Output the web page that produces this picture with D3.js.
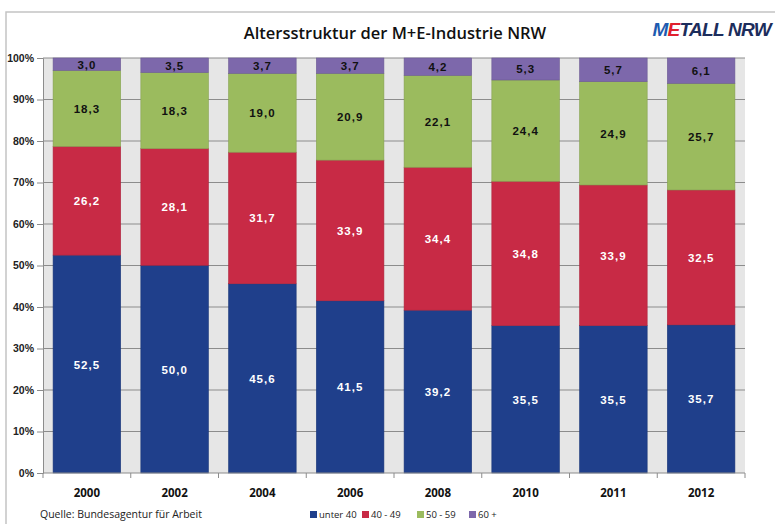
<!DOCTYPE html>
<html><head><meta charset="utf-8">
<script src="https://cdn.jsdelivr.net/npm/d3@7"></script>
<style>body{margin:0;background:#fff}svg{display:block}</style>
</head><body><svg id="c" width="775" height="524"></svg>
<script>
const years = ["2000","2002","2004","2006","2008","2010","2011","2012"];
const seriesNames = ["unter 40","40 - 49","50 - 59","60 +"];
const unter40 = [52.5,50.0,45.6,41.5,39.2,35.5,35.5,35.7];
const s40_49 = [26.2,28.1,31.7,33.9,34.4,34.8,33.9,32.5];
const s50_59 = [18.3,18.3,19.0,20.9,22.1,24.4,24.9,25.7];
const s60plus = [3.0,3.5,3.7,3.7,4.2,5.3,5.7,6.1];
const yTicks = [0,10,20,30,40,50,60,70,80,90,100];
const colors = ["#1f3f8b","#c82a45","#9bbb5e","#7d68ab"];
const textColors = ["#fff","#fff","#111","#111"];

const rows = years.map((y,i)=>({year:y,"unter 40":unter40[i],"40 - 49":s40_49[i],"50 - 59":s50_59[i],"60 +":s60plus[i]}));
const stack = d3.stack().keys(seriesNames).offset(d3.stackOffsetExpand)(rows);

const svg = d3.select("#c");
const L=43,R=745,T=58,B=473;
const x = d3.scaleBand().domain(years).range([L,R]).paddingInner(0.23).paddingOuter(0.115);
const y = d3.scaleLinear().domain([0,100]).range([B,T]);

// frame
svg.append("path").attr("d","M6,524V12H775").attr("fill","none").attr("stroke","#c4c4c4").attr("stroke-width",1.5);

// plot bg
svg.append("rect").attr("x",L).attr("y",T).attr("width",R-L).attr("height",B-T).attr("fill","#e6e6e6");
// grid
svg.append("g").selectAll("line").data(yTicks.filter(d=>d>0)).join("line")
  .attr("x1",L).attr("x2",R).attr("y1",d=>y(d)).attr("y2",d=>y(d)).attr("stroke","#8c8c8c").attr("stroke-width",1);

// bars
const g = svg.append("g");
stack.forEach((s,si)=>{
  g.selectAll(null).data(s).join("rect")
    .attr("x",d=>x(d.data.year)).attr("width",x.bandwidth())
    .attr("y",d=>y(d[1]*100)).attr("height",d=>y(d[0]*100)-y(d[1]*100))
    .attr("fill",colors[si]).attr("stroke",d3.color(colors[si]).darker(0.4)).attr("stroke-width",0.6);
  g.selectAll(null).data(s).join("text")
    .attr("x",d=>x(d.data.year)+x.bandwidth()/2)
    .attr("y",d=>y((d[0]+d[1])/2*100)+4.5)
    .attr("text-anchor","middle").attr("fill",textColors[si])
    .attr("font-family","Liberation Sans, Arial, sans-serif").attr("font-weight","bold").attr("font-size","11.5px")
    .attr("letter-spacing","1px")
    .text(d=>d3.format(".1f")(d.data[s.key]).replace(".",","));
});

// y axis
const ya = svg.append("g").attr("transform",`translate(${L},0)`)
  .call(d3.axisLeft(y).tickValues(yTicks).tickSize(6).tickPadding(3).tickFormat(d=>d+"%"));
ya.select(".domain").attr("stroke","#8c8c8c");
ya.selectAll(".tick line").attr("stroke","#8c8c8c");
ya.selectAll("text").attr("font-family","Liberation Sans, Arial, sans-serif").attr("font-size","10.5px").attr("font-weight","bold").attr("fill","#222");

// x axis
svg.append("line").attr("x1",L).attr("x2",R).attr("y1",B).attr("y2",B).attr("stroke","#8c8c8c");
const bounds = d3.range(years.length+1).map(i=>L+i*(R-L)/years.length);
svg.append("g").selectAll("line").data(bounds).join("line")
  .attr("x1",d=>d).attr("x2",d=>d).attr("y1",B).attr("y2",B+5).attr("stroke","#8c8c8c");
svg.append("g").selectAll("text").data(years).join("text")
  .attr("x",d=>x(d)+x.bandwidth()/2).attr("y",497).attr("text-anchor","middle")
  .attr("font-family","Open Sans, sans-serif").attr("font-weight","bold").attr("font-size","11.5px").attr("fill","#111")
  .text(d=>d);

// title
svg.append("text").attr("x",395).attr("y",39).attr("text-anchor","middle")
  .attr("font-family","Open Sans, sans-serif").attr("font-weight","600").attr("font-size","16.5px").attr("fill","#111")
  .text("Altersstruktur der M+E-Industrie NRW");

// logo
const logo = svg.append("text").attr("x",771).attr("y",36).attr("text-anchor","end")
  .attr("font-family","Liberation Sans, Arial, sans-serif").attr("font-weight","bold").attr("font-style","italic")
  .attr("font-size","19px").attr("letter-spacing","-0.7px");
logo.append("tspan").attr("fill","#1d5bb0").text("M");
logo.append("tspan").attr("fill","#e0202e").text("E");
logo.append("tspan").attr("fill","#1c2d5c").text("TALL NRW");

// source
svg.append("text").attr("x",40).attr("y",518).attr("font-family","Open Sans, sans-serif").attr("font-size","10.5px").attr("fill","#222")
  .text("Quelle: Bundesagentur für Arbeit");

// legend
const legX = [310,362,417,469];
const lg = svg.append("g");
seriesNames.forEach((n,i)=>{
  lg.append("rect").attr("x",legX[i]).attr("y",511).attr("width",7).attr("height",7).attr("fill",colors[i]);
  lg.append("text").attr("x",legX[i]+9).attr("y",518).attr("font-family","Open Sans, sans-serif").attr("font-size","9.5px").attr("fill","#222").text(n);
});
</script></body></html>
